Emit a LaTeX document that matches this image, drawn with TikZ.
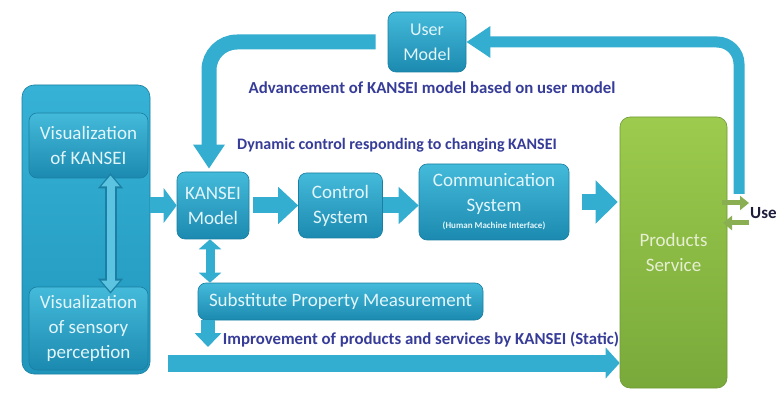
\documentclass[tikz,border=0pt]{standalone}
\usepackage{fontspec}
\setmainfont{Carlito}
\usetikzlibrary{arrows.meta,calc}
\definecolor{btop}{HTML}{44BADA}
\definecolor{bbot}{HTML}{1C8AB0}
\definecolor{bedge}{HTML}{1A7FA2}
\definecolor{btext}{HTML}{E2F5FA}
\definecolor{otop}{HTML}{36B2D6}
\definecolor{obot}{HTML}{2196BC}
\definecolor{arr}{HTML}{33ADD0}
\definecolor{arrlight}{HTML}{5CC4E0}
\definecolor{lbl}{HTML}{363C98}
\definecolor{gtop}{HTML}{9CCB4E}
\definecolor{gbot}{HTML}{79A93A}
\definecolor{gedge}{HTML}{6E9A34}
\definecolor{gtext}{HTML}{E6EFD2}
\definecolor{garr}{HTML}{8AAE52}
\definecolor{usertext}{HTML}{1E1E3C}
\begin{document}
\begin{tikzpicture}[x=1pt,y=-1pt,
  kbox/.style={draw=bedge, line width=0.6pt, rounded corners=8pt, top color=btop, bottom color=bbot,
    text=btext, align=center, font=\fontsize{19}{25}\selectfont, inner sep=0pt},
  obox/.style={draw=bedge, line width=0.6pt, rounded corners=12pt, top color=otop, bottom color=obot, inner sep=0pt},
  gbox/.style={draw=gedge, line width=0.6pt, rounded corners=10pt, top color=gtop, bottom color=gbot,
    text=gtext, align=center, font=\fontsize{19}{25}\selectfont, inner sep=0pt},
  lab/.style={text=lbl, font=\bfseries\fontsize{16.8}{19}\selectfont, inner sep=0pt},
  blk/.style args={#1/#2/#3}{draw=arr, line width=#1, -{Triangle[width=#2, length=#3]}},
  dblk/.style args={#1/#2/#3}{draw=arr, line width=#1, {Triangle[width=#2, length=#3]}-{Triangle[width=#2, length=#3]}},
  gblk/.style={draw=garr, line width=5pt, -{Triangle[width=14pt, length=9pt]}}
]
\useasboundingbox (0,0) rectangle (780,393);
\fill[white] (0,0) rectangle (780,393);

% left group
\node[obox, minimum width=128pt, minimum height=289pt] (left) at (86,229.5) {};
\node[kbox, minimum width=119pt, minimum height=65pt] (vk) at (88.5,145.5) {Visualization\\of KANSEI};
\node[kbox, minimum width=119pt, minimum height=83pt] (vs) at (88.5,328.5) {Visualization\\of sensory\\perception};

% main row
\node[kbox, minimum width=72pt, minimum height=67pt] (kansei) at (213,205.5) {KANSEI\\Model};
\node[kbox, minimum width=84pt, minimum height=65pt] (control) at (340.5,205.5) {Control\\System};
\node[kbox, minimum width=150pt, minimum height=76pt] (comm) at (494,202)
  {Communication\\System\\[-8pt]{\bfseries\fontsize{9}{10}\selectfont (Human Machine Interface)}};
\node[kbox, minimum width=78pt, minimum height=60pt, font=\fontsize{18}{25}\selectfont] (um) at (427,42) {User\\Model};
\node[kbox, minimum width=285pt, minimum height=37pt] (sub) at (340.5,301.5) {Substitute Property Measurement};
\node[gbox, minimum width=107pt, minimum height=271pt] (prod) at (673.5,252.5) {Products\\Service};

% labels
\node[lab] (adv) at (432,88) {Advancement of KANSEI model based on user model};
\node[lab, font=\bfseries\fontsize{16}{19}\selectfont] (dyn) at (397,145) {Dynamic control responding to changing KANSEI};
\node[lab] (imp) at (421,340) {Improvement of products and services by KANSEI (Static)};
\node[anchor=west, inner sep=0pt, text=usertext, font=\bfseries\fontsize{17}{20}\selectfont] (user) at (750,213) {Use};

% coordinates for free ends
\coordinate (u9) at (739,194);
\coordinate (d7) at (208,347);
\coordinate (l8) at (168,363);
\coordinate (g1a) at (722,203);
\coordinate (g1b) at (749,203);
\coordinate (g2a) at (749,223);
\coordinate (g2b) at (723,223);
\coordinate (va) at ($(vk.south)+(22,-5)$);
\coordinate (vb) at ($(vs.north)+(22,7)$);

% connectors
\draw[blk={16pt/34pt/13pt}] (left.east |- kansei.west) -- (kansei.west);
\draw[blk={16pt/36pt/20pt}, shorten <=4pt] (kansei.east) -- (control.west);
\draw[blk={16pt/36pt/20pt}] (control.east) -- (comm.west |- control.east);
\draw[blk={16pt/42pt/22pt}, shorten <=13pt, shorten >=2pt] (comm.east) -- (prod.west |- comm.east);
\draw[dblk={9pt/22pt/10pt}] ([xshift=-3pt]kansei.south) -- ([xshift=-3pt]kansei.south |- sub.north);
\draw[dblk={12pt/24pt/15pt}, draw=bedge] (va) -- (vb);
\draw[dblk={8pt/18pt/11pt}, draw=arrlight, shorten <=2.2pt, shorten >=2.2pt] (va) -- (vb);
\draw[blk={14pt/26pt/14pt}] (sub.south -| d7) -- (d7);
\draw[blk={17pt/30pt/14pt}] (l8) -- (prod.west |- l8);
\draw[blk={11pt/30pt/24pt}, rounded corners=22pt] (u9) |- (um.east);
\draw[blk={15pt/30pt/24pt}, rounded corners=28pt, shorten <=12pt, shorten >=3pt] (um.west) -| ([xshift=-4pt]kansei.north);
\draw[gblk] (g1a) -- (g1b);
\draw[gblk] (g2a) -- (g2b);
\end{tikzpicture}
\end{document}
